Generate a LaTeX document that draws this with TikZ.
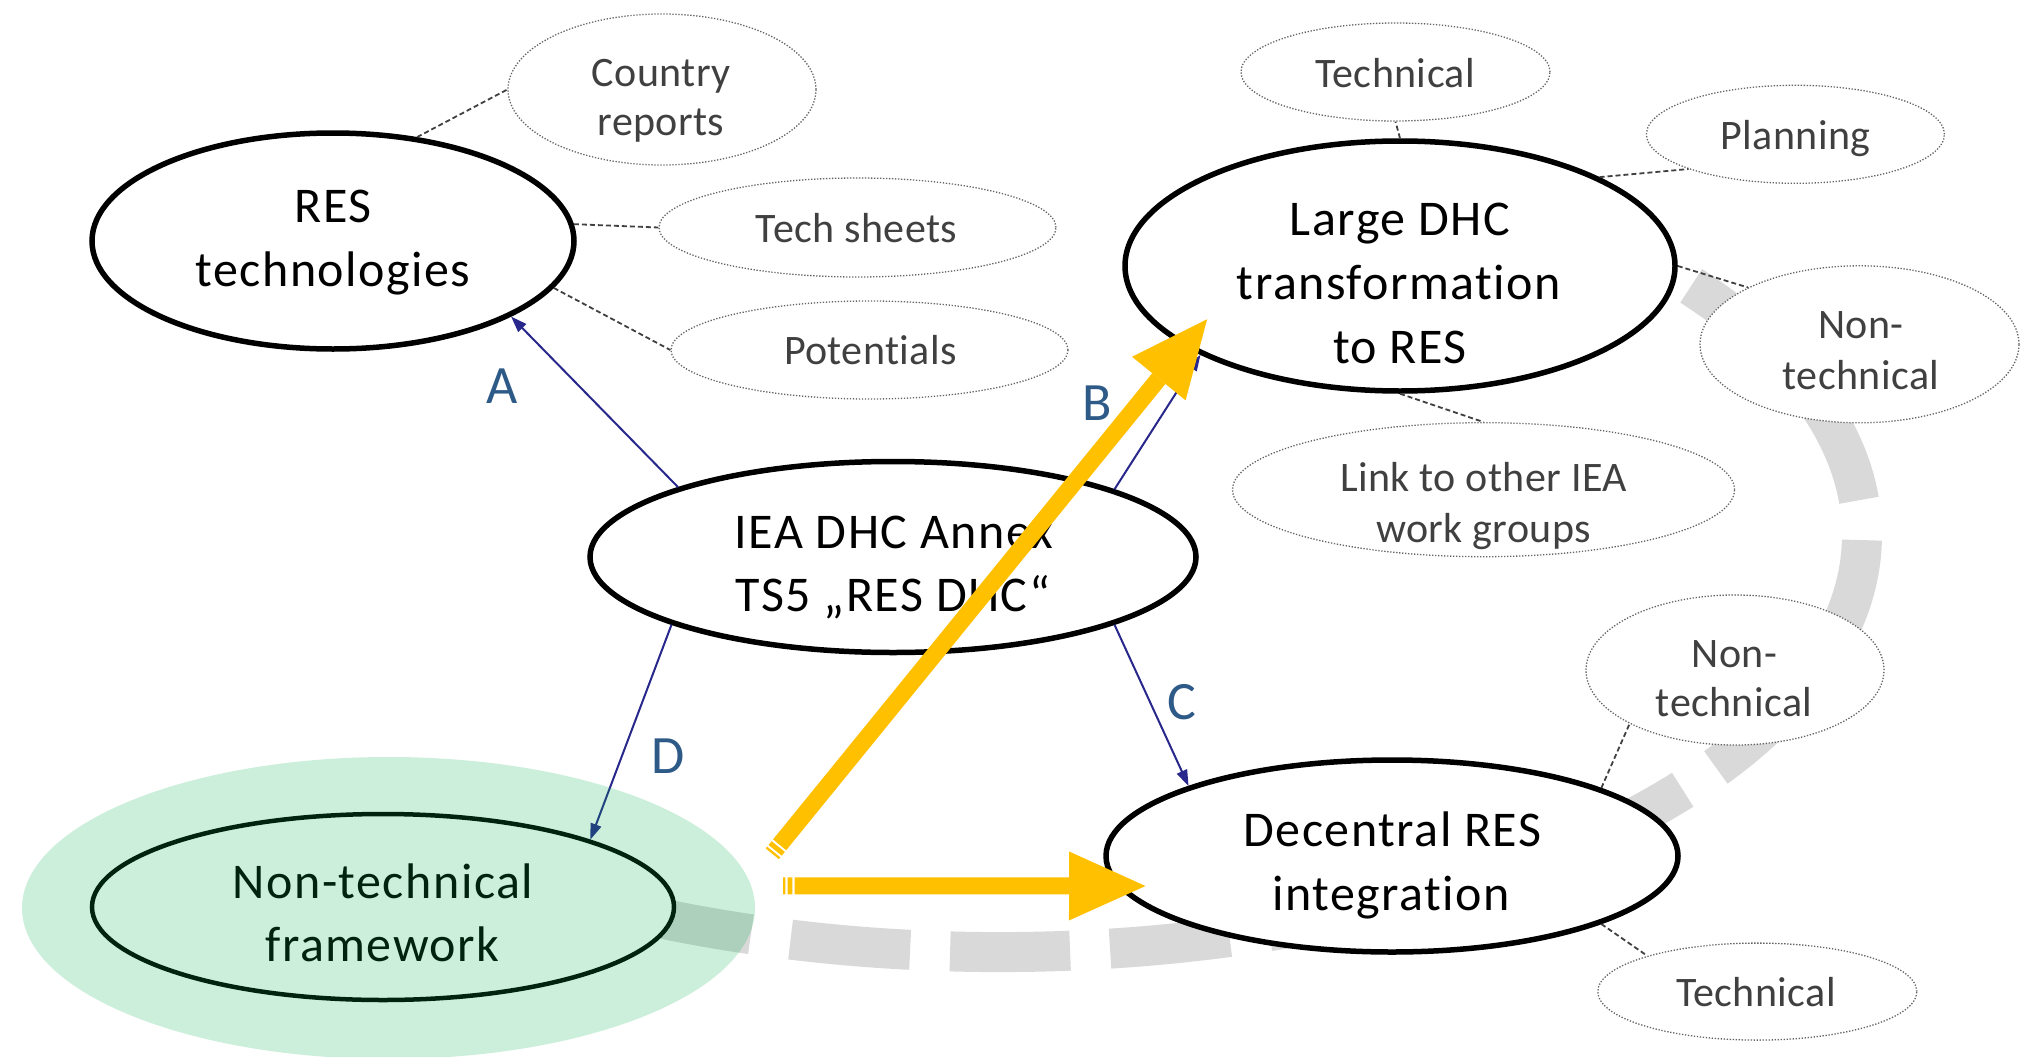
\documentclass[tikz,border=0pt]{standalone}
\usepackage{fontspec}
\setmainfont{Carlito}[Ligatures=NoCommon]
\newfontfamily\mainfnt{Carlito}[Ligatures=NoCommon,LetterSpace=3.0]
\newfontfamily\subfnt{Carlito}[Ligatures=NoCommon,LetterSpace=1.0]
\usetikzlibrary{shapes.geometric,arrows.meta}
\definecolor{ygold}{RGB}{255,192,0}
\definecolor{arcgrey}{RGB}{217,217,217}
\definecolor{halogreen}{RGB}{0,176,80}
\definecolor{navyline}{RGB}{40,40,140}
\definecolor{lblblue}{RGB}{46,90,136}
\definecolor{subtext}{RGB}{64,64,64}
\definecolor{subline}{RGB}{100,100,100}
\definecolor{conline}{RGB}{64,64,64}
\begin{document}
\begin{tikzpicture}[x=1pt,y=-1pt,
 mainnode/.style={ellipse, draw=black, line width=5.5pt, fill=white, inner sep=0pt},
 subnode/.style={ellipse, draw=subline, line width=1.3pt, dash pattern=on 1.3pt off 1.7pt, fill=white, inner sep=0pt},
 maintxt/.style={anchor=base, inner sep=0pt, font=\mainfnt\fontsize{50}{61}\selectfont},
 subtxt/.style={anchor=base, inner sep=0pt, text=subtext, font=\subfnt\fontsize{42}{51}\selectfont},
 conn/.style={draw=conline, line width=1.8pt, dash pattern=on 5pt off 3pt},
 bluearrow/.style={draw=navyline, line width=2pt, -{Triangle[length=16pt,width=11pt]}},
 lbl/.style={text=lblblue, font=\fontsize{54}{60}\selectfont, inner sep=0pt},
 yarrow/.style={draw=ygold, line width=17pt, dash pattern=on 2.3pt off 2.2pt on 4.9pt off 2.2pt on 1500pt off 1pt, -{Triangle[length=76.5pt,width=69pt,line width=0pt]}},
 greyarc/.style={draw=arcgrey, line width=40pt, dash pattern=on 120pt off 40pt, dash phase=7pt}
]
\useasboundingbox (0,0) rectangle (2021,1057);
\fill[white] (0,0) rectangle (2021,1057);

% grey dashed arc
\draw[greyarc] (1000,535) ++(114.7:862 and 417) arc[start angle=114.7, end angle=-37, x radius=862, y radius=417];

% small ellipses
\node[subnode, minimum width=308pt, minimum height=151pt] (country) at (662,89.5) {};
\node[subnode, minimum width=397pt, minimum height=99pt] (techsheets) at (857.5,227.5) {};
\node[subnode, minimum width=397pt, minimum height=98pt] (potentials) at (869.5,350) {};
\node[subnode, minimum width=309pt, minimum height=98pt] (techtop) at (1395.5,72) {};
\node[subnode, minimum width=298pt, minimum height=98pt] (planning) at (1795.4,134.3) {};
\node[subnode, minimum width=319pt, minimum height=157pt] (nontechA) at (1859.5,344.3) {};
\node[subnode, minimum width=502pt, minimum height=134pt] (link) at (1483.5,489.7) {};
\node[subnode, minimum width=298pt, minimum height=150pt] (nontechB) at (1735,670) {};
\node[subnode, minimum width=319pt, minimum height=97pt] (techbot) at (1757.3,991.6) {};

\node[subtxt] (countryA) at (661,86) {Country};
\node[subtxt] (countryB) at (661,135) {reports};
\node[subtxt] (techsheetsT) at (856.5,242) {Tech sheets};
\node[subtxt] (potentialsT) at (870.5,364.8) {Potentials};
\node[subtxt] (techtopT) at (1395.2,87) {Technical};
\node[subtxt] (planningT) at (1795.4,149) {Planning};
\node[subtxt] (nontechAa) at (1861,338.5) {Non-};
\node[subtxt] (nontechAb) at (1861,389.3) {technical};
\node[subtxt] (linkA) at (1483.5,491) {Link to other IEA};
\node[subtxt] (linkB) at (1483.5,542.6) {work groups};
\node[subtxt] (nontechBa) at (1734.2,667) {Non-};
\node[subtxt] (nontechBb) at (1734.2,716.7) {technical};
\node[subtxt] (techbotT) at (1756,1006.2) {Technical};

% main ellipses
\node[mainnode, minimum width=482pt, minimum height=216pt] (res) at (333,241) {};
\node[mainnode, minimum width=550pt, minimum height=250pt] (ldhc) at (1400,266) {};
\node[mainnode, minimum width=606pt, minimum height=191pt] (iea) at (893,557) {};
\node[mainnode, minimum width=572pt, minimum height=192pt] (dec) at (1392,856) {};
\node[mainnode, minimum width=582pt, minimum height=186pt, line width=4.5pt] (ntf) at (383,907) {};

\node[maintxt] (resA) at (333,222.7) {RES};
\node[maintxt] (resB) at (333,286) {technologies};
\node[maintxt] (ldhcA) at (1400,235.7) {Large DHC};
\node[maintxt] (ldhcB) at (1399,299.9) {transformation};
\node[maintxt] (ldhcC) at (1400,363) {to RES};
\node[maintxt] (ieaA) at (894,548) {IEA DHC Annex};
\node[maintxt] (ieaB) at (893,611.9) {TS5 „RES DHC“};
\node[maintxt] (decA) at (1392.4,846.4) {Decentral RES};
\node[maintxt] (decB) at (1391,910.3) {integration};
\node[maintxt] (ntfA) at (383,898.6) {Non-technical};
\node[maintxt] (ntfB) at (382.4,961.8) {framework};

% dashed connectors
\draw[conn] (res.51.6) -- (country.180);
\draw[conn] (res.4.5) -- (techsheets.180);
\draw[conn] (res.-12) -- (potentials.180);
\draw[conn] (ldhc.90) -- (techtop.-90);
\draw[conn] (ldhc.24.2) -- (planning.198.2);
\draw[conn] (ldhc.0) -- (nontechA.153.8);
\draw[conn] (ldhc.-90) -- (link.90);
\draw[conn] (dec.18.9) -- (nontechB.207.5);
\draw[conn] (dec.-18.6) -- (techbot.162.7);

% blue arrows
\draw[bluearrow] (iea.162.2) -- (res.-23.8);
\draw[bluearrow] (iea.17.7) -- (ldhc.204.4);
\draw[bluearrow] (iea.-17.6) -- (dec.161);
\draw[bluearrow] (iea.197.7) -- (ntf.18.4);
\node[lbl] (la) at (502,386) {A};
\node[lbl] (lb) at (1097,403) {B};
\node[lbl] (lc) at (1182,702.5) {C};
\node[lbl] (ld) at (668,756) {D};

% green halo
\fill[halogreen, opacity=0.2] (388.5,908) ellipse [x radius=366.5, y radius=151];

% yellow striped arrows
\coordinate (yt1) at (772.3,853.8);
\coordinate (yh1) at (1207.1,319.2);
\coordinate (yt2) at (783,885.8);
\coordinate (yh2) at (1145.5,886);
\draw[yarrow] (yt1) -- (yh1);
\draw[yarrow] (yt2) -- (yh2);
\end{tikzpicture}
\end{document}
